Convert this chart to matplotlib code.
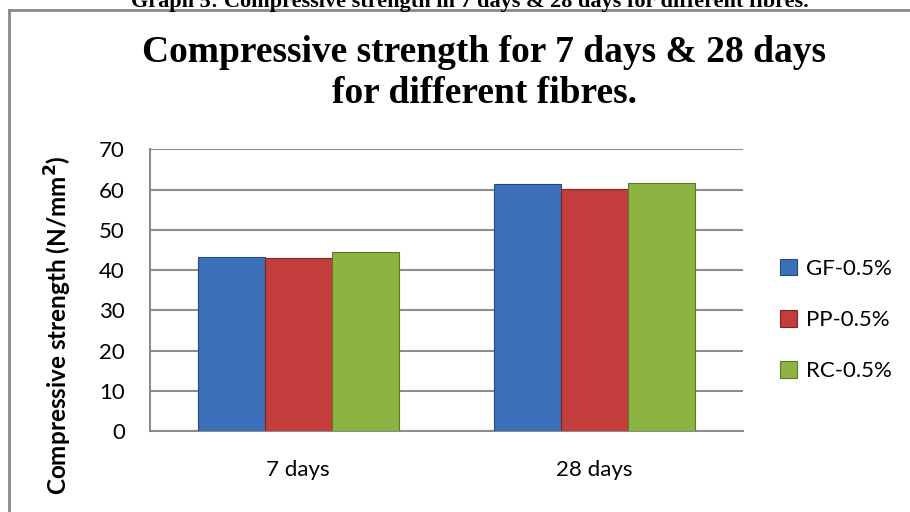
"""
plot.py - compressive strength, 7 and 28 days, three fibre types
"""

import matplotlib as mpl
import matplotlib.pyplot as plt
import matplotlib.lines as mlines
import numpy as np

mpl.rcParams.update({
    "font.family": ["Lato", "DejaVu Sans"],
    "axes.linewidth": 1.5,
})

# data
categories = ["7 days", "28 days"]
series = ["GF-0.5%", "PP-0.5%", "RC-0.5%"]
gf_vals = [43.3, 61.5]
pp_vals = [42.9, 60.2]
rc_vals = [44.4, 61.7]
y_ticks = [0, 10, 20, 30, 40, 50, 60, 70]

colors = ["#3C71B9", "#C23D3B", "#8DB443"]
edges = ["#23497F", "#7E2624", "#5A7A26"]
grid_col = "#8C8C8C"

W, H = 910, 512
fig = plt.figure(figsize=(W / 100, H / 100), dpi=100)
ax = fig.add_axes([150 / W, 81 / H, 593 / W, 281.7 / H])

x = np.arange(len(categories))
bw = 0.226
for i, (name, vals) in enumerate(zip(series, [gf_vals, pp_vals, rc_vals])):
    ax.bar(x + (i - 1) * bw, vals, bw, color=colors[i], edgecolor=edges[i],
           linewidth=0.8, label=name, zorder=3)

ax.set_xlim(-0.5, 1.5)
ax.set_ylim(0, 70)
ax.set_yticks(y_ticks)
ax.set_xticks(x)
ax.set_xticklabels(categories, fontsize=16)
ax.tick_params(axis="y", labelsize=16, length=0, pad=18)
ax.tick_params(axis="x", length=0, pad=21)
ax.yaxis.grid(True, color=grid_col, linewidth=1.5, zorder=0)
for s in ["top", "right"]:
    ax.spines[s].set_visible(False)
ax.spines["left"].set_color(grid_col)
ax.spines["bottom"].set_color(grid_col)

ax.set_ylabel("Compressive strength (N/mm$^\\mathbf{2}$)", fontsize=17.5,
              fontweight="bold")
ax.yaxis.set_label_coords(-(150 - 74) / 593, (431 - 325) / 281.7)

leg = ax.legend(loc="upper left", bbox_to_anchor=(780 / W, (512 - 259) / H),
                bbox_transform=fig.transFigure, frameon=False, fontsize=16,
                handlelength=0.75, handleheight=0.75, handletextpad=0.4,
                labelspacing=1.4, borderaxespad=0, borderpad=0)

# chart frame (left and top edges visible)
fig.add_artist(mlines.Line2D([9 / W, 9 / W], [0, 1 - 10 / H],
                             transform=fig.transFigure, color="#8A8A8A", lw=2))
fig.add_artist(mlines.Line2D([9 / W, 1], [1 - 10 / H, 1 - 10 / H],
                             transform=fig.transFigure, color="#8A8A8A", lw=2))

# document caption, cut off at the top of the picture
fig.text(470 / W, 1 - 7 / H,
         "Graph 5: Compressive strength in 7 days & 28 days for different fibres.",
         family="Liberation Serif", fontweight="bold", fontsize=16,
         ha="center", va="baseline")

fig.text(484 / W, 1 - 62 / H, "Compressive strength for 7 days & 28 days",
         family="Liberation Serif", fontweight="bold", fontsize=27,
         ha="center", va="baseline")
fig.text(484 / W, 1 - 103 / H, "for different fibres.",
         family="Liberation Serif", fontweight="bold", fontsize=27,
         ha="center", va="baseline")

fig.savefig("out.png", dpi=100)
